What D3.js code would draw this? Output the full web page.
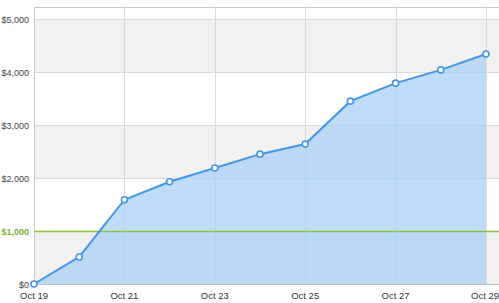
<!DOCTYPE html>
<html><head><meta charset="utf-8">
<script src="https://cdn.jsdelivr.net/npm/d3@7"></script>
<style>
html,body{margin:0;padding:0;background:#fff;}
svg{display:block;font-family:"Liberation Sans",Arial,sans-serif;}
</style></head>
<body><svg id="c" width="499" height="303"></svg>
<script>
const days = ["Oct 19","Oct 20","Oct 21","Oct 22","Oct 23","Oct 24","Oct 25","Oct 26","Oct 27","Oct 28","Oct 29"];
const values = [0, 510, 1590, 1930, 2190, 2450, 2640, 3450, 3790, 4040, 4340];
const yTicks = [0, 1000, 2000, 3000, 4000, 5000];
const xTickLabels = ["Oct 19","Oct 21","Oct 23","Oct 25","Oct 27","Oct 29"];
const goal = 1000;

(function(){
const svg = d3.select("#c");
const pLeft = 34, pRight = 486, pTop = 7, pBottom = 284, W = 499;
const x = d3.scalePoint().domain(days).range([pLeft, pRight]);
const y = d3.scaleLinear().domain([0, 5000]).range([pBottom, 19]);

// bands
for (let i = 0; i < yTicks.length - 1; i++) {
  if ((yTicks.length - 2 - i) % 2 === 0) {
    svg.append("rect").attr("x", pLeft).attr("width", W - pLeft)
      .attr("y", y(yTicks[i+1])).attr("height", y(yTicks[i]) - y(yTicks[i+1]))
      .attr("fill", "#f1f1f1");
  }
}
// top border
svg.append("line").attr("x1", pLeft).attr("x2", W).attr("y1", pTop + 0.5).attr("y2", pTop + 0.5)
  .attr("stroke", "#c8c8c8");
// horizontal grid
svg.append("g").selectAll("line").data(yTicks.filter(d => d > 0 && d !== goal)).join("line")
  .attr("x1", pLeft).attr("x2", W)
  .attr("y1", d => Math.round(y(d)) + 0.5).attr("y2", d => Math.round(y(d)) + 0.5)
  .attr("stroke", "#d6dbe1");
// vertical grid
svg.append("g").selectAll("line").data(xTickLabels).join("line")
  .attr("x1", d => Math.round(x(d)) + 0.5).attr("x2", d => Math.round(x(d)) + 0.5)
  .attr("y1", pTop).attr("y2", pBottom)
  .attr("stroke", "#d6dbe1");

// area
const data = days.map((d, i) => ({d, v: values[i]}));
svg.append("path").datum(data)
  .attr("d", d3.area().x(p => x(p.d)).y0(y(0)).y1(p => y(p.v)))
  .attr("fill", "#a8cff5").attr("fill-opacity", 0.72);

// goal line
svg.append("line").attr("x1", pLeft).attr("x2", W)
  .attr("y1", Math.round(y(goal)) + 0.5).attr("y2", Math.round(y(goal)) + 0.5)
  .attr("stroke", "#86c23a").attr("stroke-width", 1.5);

// axes lines
svg.append("line").attr("x1", pLeft + 0.5).attr("x2", pLeft + 0.5).attr("y1", pTop).attr("y2", pBottom)
  .attr("stroke", "#c4c8cc");
svg.append("line").attr("x1", pLeft).attr("x2", W).attr("y1", pBottom + 0.5).attr("y2", pBottom + 0.5)
  .attr("stroke", "#b7c3cf");

// line
svg.append("path").datum(data)
  .attr("d", d3.line().x(p => x(p.d)).y(p => y(p.v)))
  .attr("fill", "none").attr("stroke", "#4596e6").attr("stroke-width", 2);
svg.append("g").selectAll("circle").data(data).join("circle")
  .attr("cx", p => x(p.d)).attr("cy", p => y(p.v)).attr("r", 3)
  .attr("fill", "#fff").attr("stroke", "#4596e6").attr("stroke-width", 1.6);

// y labels
const fmt = d3.format("$,");
svg.append("g").selectAll("text").data(yTicks).join("text")
  .attr("x", 29).attr("y", d => y(d) + 3.5).attr("text-anchor", "end")
  .attr("font-size", 9)
  .attr("fill", d => d === goal ? "#74b32a" : "#444")
  .attr("font-weight", d => d === goal ? "bold" : "normal")
  .text(d => fmt(d));
// x labels
svg.append("g").selectAll("text").data(xTickLabels).join("text")
  .attr("x", (d, i) => i === xTickLabels.length - 1 ? W : x(d))
  .attr("y", 299)
  .attr("text-anchor", (d, i) => i === xTickLabels.length - 1 ? "end" : "middle")
  .attr("font-size", 9.5).attr("fill", "#333")
  .text(d => d);
})();
</script></body></html>
